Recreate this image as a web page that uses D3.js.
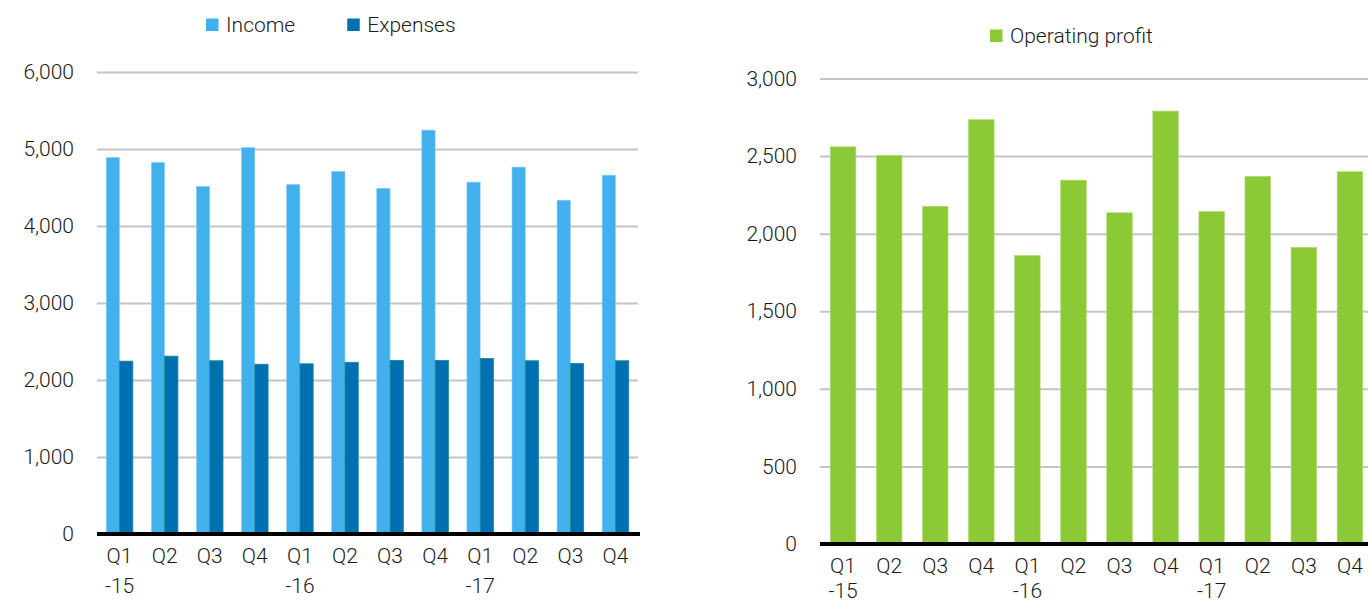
<!DOCTYPE html>
<html>
<head>
<meta charset="utf-8">
<script src="https://cdn.jsdelivr.net/npm/d3@7"></script>
<style>
  html, body { margin: 0; padding: 0; background: #fff; }
  svg { display: block; }
  text { font-family: Roboto, "Liberation Sans", sans-serif; font-weight: 300; fill: #1a1a1a; }
</style>
</head>
<body>
<svg id="chart" width="1368" height="603"></svg>
<script>
// Quarterly figures, Q1 2015 – Q4 2017
const quarters = ["Q1", "Q2", "Q3", "Q4", "Q1", "Q2", "Q3", "Q4", "Q1", "Q2", "Q3", "Q4"];
const years    = ["-15", "", "", "", "-16", "", "", "", "-17", "", "", ""];
const income   = [4890, 4825, 4515, 5020, 4540, 4710, 4490, 5245, 4570, 4765, 4335, 4660];
const expenses = [2245, 2310, 2250, 2205, 2210, 2230, 2255, 2255, 2280, 2250, 2215, 2250];
const operatingProfit = [2560, 2505, 2177, 2735, 1860, 2345, 2135, 2790, 2143, 2370, 1912, 2400];

const leftTicks  = [0, 1000, 2000, 3000, 4000, 5000, 6000];
const rightTicks = [0, 500, 1000, 1500, 2000, 2500, 3000];

const colors = { Income: "#42b0ec", Expenses: "#0070b2", "Operating profit": "#8cc937" };

const svg = d3.select("#chart");
const fmt = d3.format(",");
const keys = quarters.map((q, i) => i);

function yAxis(g, y, ticks, x0, x1) {
  const axis = d3.axisLeft(y).tickValues(ticks).tickFormat(fmt)
    .tickSize(-(x1 - x0)).tickPadding(23);
  g.attr("transform", `translate(${x0},0)`).call(axis);
  g.select(".domain").remove();
  g.selectAll(".tick line").attr("stroke", "#c4c4c4").attr("stroke-width", 2);
  g.selectAll(".tick text").attr("font-size", 21).attr("fill", "#1a1a1a");
}

function xAxis(g, x, yBase, yearOffset) {
  const axis = d3.axisBottom(x).tickSize(0).tickFormat(() => "");
  g.attr("transform", `translate(0,${yBase})`).call(axis);
  g.select(".domain").remove();
  g.selectAll(".tick text").remove();
  const t = g.selectAll(".tick").append("text")
    .attr("text-anchor", "middle").attr("font-size", 21).attr("fill", "#1a1a1a");
  t.append("tspan").attr("x", 0).attr("y", 29).text(i => quarters[i]);
  t.append("tspan").attr("x", 0).attr("y", yearOffset).text(i => years[i]);
}

function legend(g, items, x, y, gap) {
  let cx = x;
  items.forEach(name => {
    g.append("rect").attr("x", cx).attr("y", y - 6.5).attr("width", 12.5).attr("height", 12.5)
      .attr("fill", colors[name]);
    const t = g.append("text").attr("x", cx + 20).attr("y", y).attr("dy", "0.35em")
      .attr("font-size", 21).text(name);
    cx += 20 + t.node().getComputedTextLength() + gap;
  });
}

// ---- Income vs expenses (grouped bars) ----
{
  const x0 = 97, x1 = 638;
  const x = d3.scaleBand().domain(keys).range([x0, x1]).paddingInner(0.41).paddingOuter(0.205);
  const xs = d3.scaleBand().domain(["Income", "Expenses"]).range([0, x.bandwidth()]);
  const y = d3.scaleLinear().domain([0, 6000]).range([534, 72]);

  yAxis(svg.append("g"), y, leftTicks, x0, x1);

  const grp = svg.append("g").selectAll("g").data(keys).join("g")
    .attr("transform", i => `translate(${x(i)},0)`);
  grp.append("rect")
    .attr("x", xs("Income")).attr("width", xs.bandwidth())
    .attr("y", i => y(income[i])).attr("height", i => y(0) - y(income[i]))
    .attr("fill", colors.Income).attr("stroke", "#8fd0f2").attr("stroke-width", 0.6);
  grp.append("rect")
    .attr("x", xs("Expenses")).attr("width", xs.bandwidth())
    .attr("y", i => y(expenses[i])).attr("height", i => y(0) - y(expenses[i]))
    .attr("fill", colors.Expenses).attr("stroke", "#178c8c").attr("stroke-width", 0.8);

  svg.append("line").attr("x1", x0).attr("x2", x1 + 2).attr("y1", y(0)).attr("y2", y(0))
    .attr("stroke", "#000").attr("stroke-width", 4);

  xAxis(svg.append("g"), x, y(0), 59);
  legend(svg.append("g"), ["Income", "Expenses"], 206, 25, 52);
}

// ---- Operating profit ----
{
  const x0 = 820, x1 = 1373;
  const x = d3.scaleBand().domain(keys).range([x0, x1]).paddingInner(0.443).paddingOuter(0.2215);
  const y = d3.scaleLinear().domain([0, 3000]).range([544, 78.5]);

  yAxis(svg.append("g"), y, rightTicks, x0, x1);

  svg.append("g").selectAll("rect").data(keys).join("rect")
    .attr("x", i => x(i)).attr("width", x.bandwidth())
    .attr("y", i => y(operatingProfit[i])).attr("height", i => y(0) - y(operatingProfit[i]))
    .attr("fill", colors["Operating profit"]).attr("stroke", "#b5dd83").attr("stroke-width", 0.6);

  svg.append("line").attr("x1", x0).attr("x2", x1).attr("y1", y(0)).attr("y2", y(0))
    .attr("stroke", "#000").attr("stroke-width", 4);

  xAxis(svg.append("g"), x, y(0), 54);
  legend(svg.append("g"), ["Operating profit"], 990, 36, 0);
}
</script>
</body>
</html>
